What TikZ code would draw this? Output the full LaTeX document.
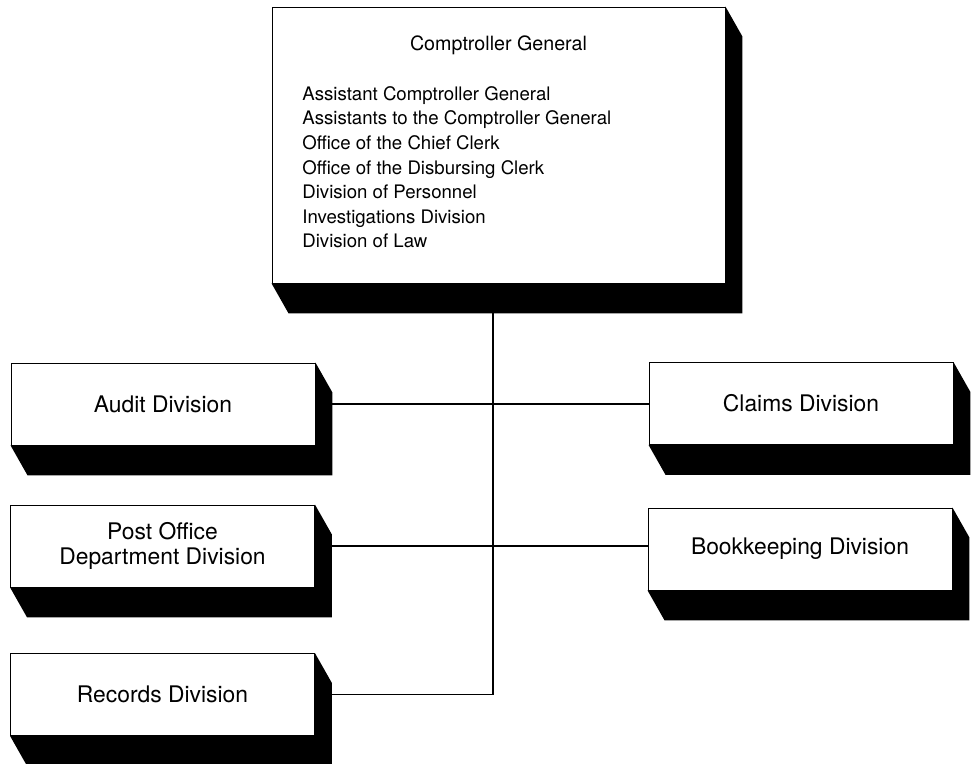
\documentclass[tikz,border=0pt]{standalone}
\usepackage{fontspec}
\setmainfont{TeX Gyre Heros}
\usetikzlibrary{calc,positioning}
\def\dropshadow(#1){\fill ($(#1.south west)$) -- ++(0.34,-0.6) -- ($(#1.south east)+(0.34,-0.6)$) -- ($(#1.north east)+(0.34,-0.6)$) -- (#1.north east) -- (#1.south east) -- cycle;}
\tikzset{
	orgfont/.style={font=\fontsize{10.6}{14}\selectfont},
	division/.style={draw, line width=0.5pt, fill=white, minimum width=6.08cm, minimum height=1.64cm, align=center, font=\fontsize{13}{14}\selectfont},
	link/.style={line width=1.1pt}
}

\begin{document}
\begin{tikzpicture}
		%%%%% START %%%%%
		\useasboundingbox (0, 0) rectangle (19.54, -15.28);
		
		\node[draw, line width=0.5pt, fill=white, minimum width=9.06cm, minimum height=5.52cm] (cg) at (9.97, -2.9) {};
		\node[font=\fontsize{11.2}{14}\selectfont] (cgtitle) at (9.97, -0.9) {Comptroller General};
		\node[orgfont, anchor=north west, inner sep=0, align=left] (cgoffices) at (6.04, -1.72) {Assistant Comptroller General\\
			Assistants to the Comptroller General\\
			Office of the Chief Clerk\\
			Office of the Disbursing Clerk\\
			Division of Personnel\\
			Investigations Division\\
			Division of Law};
		
		\node[division] (audit) at (3.26, -8.08) {Audit Division};
		\node[division] (claims) at (16.02, -8.07) {Claims Division};
		\node[division] (postoffice) at (3.25, -10.92) {Post Office\\Department Division};
		\node[division] (bookkeeping) at (16.0, -10.98) {Bookkeeping Division};
		\node[division] (records) at (3.25, -13.89) {Records Division};
		
		\draw[link] ([xshift=-0.11cm]cg.south) |- ([xshift=0.34cm]records.east);
		\draw[link] ([xshift=0.34cm]audit.east) -- (audit.east -| claims.west);
		\draw[link] ([xshift=0.34cm]postoffice.east) -- (postoffice.east -| bookkeeping.west);
		
		\dropshadow(cg)
		\dropshadow(audit)
		\dropshadow(claims)
		\dropshadow(postoffice)
		\dropshadow(bookkeeping)
		\dropshadow(records)
		
		%%%%% END %%%%%
	\end{tikzpicture}
\end{document}
